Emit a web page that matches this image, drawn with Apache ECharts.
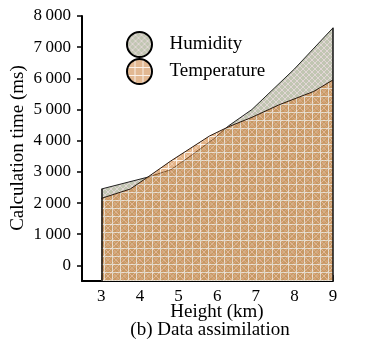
<!DOCTYPE html>
<html><head><meta charset="utf-8">
<script src="https://cdn.jsdelivr.net/npm/echarts@6/dist/echarts.min.js"></script>
<style>html,body{margin:0;padding:0;background:#fff}#c{width:377px;height:348px}</style>
</head><body><div id="c"></div>
<script>
// ---- data ----
const tempHeights = [3, 3.75, 4.2, 4.8, 5.3, 5.8, 6.3, 6.9, 7.6, 8.5, 9];
const temperature = [2150, 2450, 2830, 3350, 3750, 4150, 4450, 4750, 5150, 5580, 5950];
const humHeights = [3, 4.2, 4.55, 4.8, 5.3, 5.9, 6.3, 6.9, 8, 9];
const humidity = [2450, 2830, 2970, 3070, 3500, 4050, 4480, 5000, 6300, 7620];
const xTicks = [3, 4, 5, 6, 7, 8, 9];
const yTicks = [0, 1000, 2000, 3000, 4000, 5000, 6000, 7000, 8000];
const seriesNames = ['Humidity', 'Temperature'];
const yMin = -500, yMax = 8000, xMin = 2.5, xMax = 9;

function makePattern(size, base, line, kind, faint) {
  const c = document.createElement('canvas');
  c.width = c.height = size;
  const g = c.getContext('2d');
  g.fillStyle = base; g.fillRect(0, 0, size, size);
  g.lineWidth = 1;
  if (kind === 'grid') {
    if (faint) {
      g.strokeStyle = faint; g.beginPath();
      g.moveTo(0, 0); g.lineTo(size, size); g.moveTo(size, 0); g.lineTo(0, size); g.stroke();
    }
    g.strokeStyle = line; g.beginPath();
    g.moveTo(0, 0.5); g.lineTo(size, 0.5); g.moveTo(0.5, 0); g.lineTo(0.5, size); g.stroke();
  } else {
    g.strokeStyle = line; g.beginPath();
    g.moveTo(0, 0); g.lineTo(size, size); g.moveTo(size, 0); g.lineTo(0, size); g.stroke();
  }
  return { image: c, repeat: 'repeat' };
}
const humPat = makePattern(6, 'rgb(193,198,178)', 'rgb(226,214,214)', 'diag');
const tempPat = makePattern(8, 'rgb(205,118,38)', 'rgb(248,232,215)', 'grid', 'rgba(240,190,150,0.6)');
const tempLegendPat = makePattern(8, 'rgb(226,184,146)', 'rgb(250,240,232)', 'grid');

const chart = echarts.init(document.getElementById('c'), null, { renderer: 'canvas' });
const serif = 'Liberation Serif, Times New Roman, serif';
const thin = '\u2009';
chart.setOption({
  animation: false,
  backgroundColor: '#fff',
  grid: { left: 82, right: 44, top: 16, bottom: 67 },
  legend: {
    left: 121, top: 26, orient: 'vertical', itemWidth: 26, itemHeight: 25, itemGap: 0,
    textStyle: { fontFamily: serif, fontSize: 19, color: '#000', padding: [0, 0, 0, 12] },
    data: [
      { name: seriesNames[0], icon: 'circle', itemStyle: { color: humPat, borderColor: '#000', borderWidth: 2 } },
      { name: seriesNames[1], icon: 'circle', itemStyle: { color: tempLegendPat, borderColor: '#000', borderWidth: 2 } }
    ]
  },
  xAxis: {
    type: 'value', min: xMin, max: xMax,
    axisLine: { show: true, onZero: false, lineStyle: { color: '#000', width: 2 } },
    axisTick: { show: true, inside: true, length: 6, customValues: xTicks, lineStyle: { color: '#000', width: 1.5 } },
    axisLabel: { customValues: xTicks, fontFamily: serif, fontSize: 17, color: '#000', margin: 7 },
    splitLine: { show: false }
  },
  yAxis: {
    type: 'value', min: yMin, max: yMax,
    axisLine: { show: true, lineStyle: { color: '#000', width: 2 } },
    axisTick: { show: true, length: 5, customValues: yTicks, lineStyle: { color: '#000', width: 1.5 } },
    axisLabel: {
      customValues: yTicks, fontFamily: serif, fontSize: 17, color: '#000', margin: 11,
      formatter: v => v === 0 ? '0' : (Math.floor(v / 1000) + thin + '000')
    },
    splitLine: { show: false }
  },
  graphic: [
    { type: 'text', x: 18, y: 148, rotation: Math.PI / 2, style: { text: 'Calculation time (ms)', font: '19px ' + serif, fill: '#000', align: 'center', verticalAlign: 'middle' } },
    { type: 'text', x: 217, y: 312, style: { text: 'Height (km)', font: '19px ' + serif, fill: '#000', align: 'center', verticalAlign: 'middle' } },
    { type: 'text', x: 210, y: 330, style: { text: '(b) Data assimilation', font: '19px ' + serif, fill: '#000', align: 'center', verticalAlign: 'middle' } }
  ],
  series: [
    {
      name: seriesNames[0], type: 'line', symbol: 'none', z: 2,
      data: humHeights.map((h, i) => [h, humidity[i]]),
      lineStyle: { color: '#222', width: 1 },
      itemStyle: { color: humPat },
      areaStyle: { color: humPat, opacity: 1, origin: 'start' }
    },
    {
      name: seriesNames[1], type: 'line', symbol: 'none', z: 3,
      data: tempHeights.map((h, i) => [h, temperature[i]]),
      lineStyle: { color: '#2a1a10', width: 1 },
      itemStyle: { color: tempLegendPat },
      areaStyle: { color: tempPat, opacity: 0.55, origin: 'start' },
      markLine: {
        silent: true, symbol: 'none', label: { show: false },
        lineStyle: { color: '#111', width: 1.5, type: 'solid' },
        data: [
          [{ coord: [tempHeights[0], yMin] }, { coord: [tempHeights[0], Math.max(humidity[0], temperature[0])] }],
          [{ coord: [tempHeights[tempHeights.length - 1], yMin] }, { coord: [tempHeights[tempHeights.length - 1], Math.max(humidity[humidity.length - 1], temperature[temperature.length - 1])] }]
        ]
      }
    }
  ]
});
</script></body></html>
